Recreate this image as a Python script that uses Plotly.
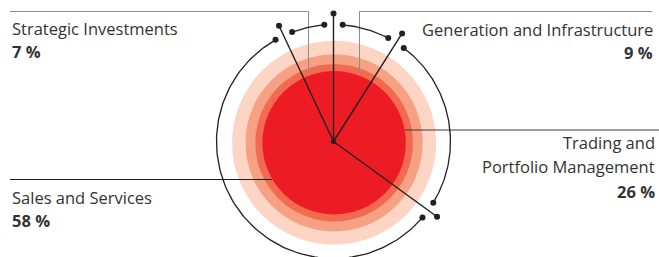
import numpy as np
import plotly.graph_objects as go

# ---- data ----
segments = ["Generation and Infrastructure", "Trading and Portfolio Management",
            "Sales and Services", "Strategic Investments"]
shares = [9, 26, 58, 7]          # percent, clockwise from 12 o'clock
pct_labels = ["9 %", "26 %", "58 %", "7 %"]

# ---- geometry (pixel space) ----
W, H = 659, 257
CX, CY = 333.5, 141.5       # hub of the radial lines
R_LINE = 128
R_ARC = 117
GAP_DEG = 4.5
LINE_COL = "#231f20"
TEXT_COL = "#333333"

def pt(angle_deg, r):
    a = np.radians(angle_deg)
    return CX + r * np.sin(a), CY - r * np.cos(a)

fig = go.Figure()

# concentric discs
rings = [(102, "#fdd5c4"), (88.6, "#f7a184"), (78.8, "#f26b51"), (71.7, "#ed1c24")]
for r, c in rings:
    fig.add_shape(type="circle", xref="x", yref="y", x0=334.1 - r, x1=334.1 + r,
                  y0=142.8 - r, y1=142.8 + r, fillcolor=c, line_width=0, layer="below")

# leader lines to labels
leaders = [
    ([10, 308.5, 308.5], [11.5, 11.5, 75], "#8c8c8c"),
    ([652, 359.5, 359.5], [11.5, 11.5, 74], "#8c8c8c"),
    ([405, 659], [130, 130], "#3a3a3a"),
    ([10, 272], [179.5, 179.5], "#231f20"),
]
for xs, ys, c in leaders:
    fig.add_trace(go.Scatter(x=xs, y=ys, mode="lines", line=dict(color=c, width=1),
                             hoverinfo="skip", showlegend=False))

# radial boundary lines and arcs, derived from the shares
bounds = np.concatenate([[0], np.cumsum(shares)]) * 3.6
for i in range(len(shares)):
    a = bounds[i]
    x1, y1 = pt(a, R_LINE)
    fig.add_trace(go.Scatter(x=[CX, x1], y=[CY, y1], mode="lines",
                             line=dict(color=LINE_COL, width=1.4),
                             hoverinfo="skip", showlegend=False))
    fig.add_trace(go.Scatter(x=[x1], y=[y1], mode="markers",
                             marker=dict(size=6, color=LINE_COL),
                             hoverinfo="skip", showlegend=False))
    a0, a1 = bounds[i] + GAP_DEG, bounds[i + 1] - GAP_DEG
    th = np.linspace(a0, a1, 120)
    ax, ay = pt(th, R_ARC)
    fig.add_trace(go.Scatter(x=ax, y=ay, mode="lines", line=dict(color=LINE_COL, width=1.3),
                             hoverinfo="skip", showlegend=False))
    ex, ey = pt(np.array([a0, a1]), R_ARC)
    fig.add_trace(go.Scatter(x=ex, y=ey, mode="markers", marker=dict(size=6, color=LINE_COL),
                             hoverinfo="skip", showlegend=False))

fig.add_trace(go.Scatter(x=[CX], y=[CY], mode="markers", marker=dict(size=5, color=LINE_COL),
                         hoverinfo="skip", showlegend=False))

# labels
FONT = "Open Sans"
FS = 16.5
label_specs = [
    # (lines, x, y_first, anchor, spacing)
    (["Generation and Infrastructure"], 655, 29, "right", 23),
    (["Trading and", "Portfolio Management"], 657, 142, "right", 24.5),
    (["Sales and Services"], 10, 197, "left", 23),
    (["Strategic Investments"], 10, 28, "left", 23),
]
for (lines, x, y0, anc, sp), pl in zip(label_specs, pct_labels):
    y = y0
    for ln in lines:
        fig.add_annotation(x=x, y=y, text=ln, showarrow=False, xanchor=anc, yanchor="middle",
                           font=dict(family=FONT, size=FS, color=TEXT_COL), xref="x", yref="y")
        y += sp
    fig.add_annotation(x=x, y=y, text="<b>" + pl + "</b>", showarrow=False, xanchor=anc,
                       yanchor="middle", font=dict(family=FONT, size=FS, color=TEXT_COL),
                       xref="x", yref="y")

fig.update_layout(
    width=W, height=H, margin=dict(l=0, r=0, t=0, b=0),
    plot_bgcolor="white", paper_bgcolor="white",
    xaxis=dict(range=[0, W], visible=False, fixedrange=True),
    yaxis=dict(range=[H, 0], visible=False, fixedrange=True),
)
fig.write_html("out.html", config={"displayModeBar": False},
               post_script="document.body.style.margin='0px';document.body.style.overflow='hidden';")
